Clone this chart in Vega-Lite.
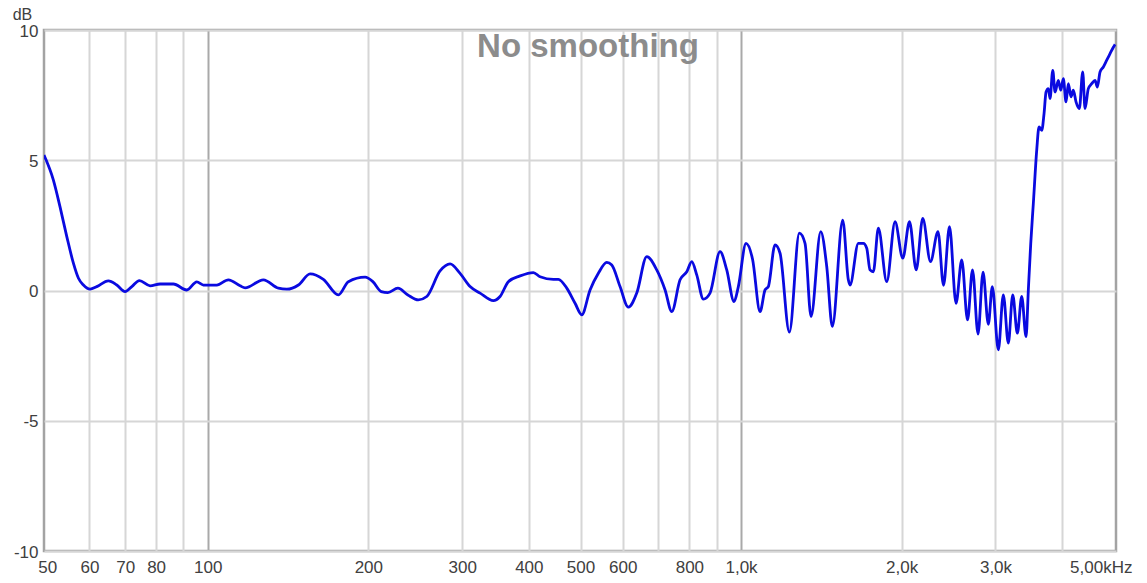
{
  "$schema": "https://vega.github.io/schema/vega-lite/v6.json",
  "width": 1072,
  "height": 521,
  "autosize": "none",
  "padding": {"left": 44, "top": 30, "right": 31, "bottom": 32},
  "background": "white",
  "config": {
    "view": {"stroke": "#a3a3a3", "strokeWidth": 2.5},
    "font": "Liberation Sans"
  },
  "title": {
    "text": "No smoothing",
    "anchor": "middle",
    "baseline": "top",
    "offset": -58,
    "dx": 8,
    "font": "Liberation Sans",
    "fontSize": 33,
    "fontWeight": "bold",
    "color": "#8c8c8c"
  },
  "data": {
    "values": [
      {"f": 49.3, "db": 5.2}, {"f": 51.34, "db": 4.24}, {"f": 52.85, "db": 3.2}, {"f": 54.4, "db": 2.07},
      {"f": 55.97, "db": 1.05}, {"f": 57.21, "db": 0.47}, {"f": 58.45, "db": 0.21}, {"f": 60.16, "db": 0.05},
      {"f": 61.92, "db": 0.15}, {"f": 65.1, "db": 0.37}, {"f": 67.51, "db": 0.21}, {"f": 69.97, "db": -0.04},
      {"f": 72.04, "db": 0.15}, {"f": 74.43, "db": 0.38}, {"f": 77.95, "db": 0.18}, {"f": 81.39, "db": 0.25},
      {"f": 86.2, "db": 0.25}, {"f": 91.33, "db": 0.02}, {"f": 95.36, "db": 0.33}, {"f": 98.12, "db": 0.21},
      {"f": 103.96, "db": 0.21}, {"f": 109.3, "db": 0.41}, {"f": 114.97, "db": 0.18}, {"f": 117.48, "db": 0.1},
      {"f": 127.13, "db": 0.41}, {"f": 135.63, "db": 0.09}, {"f": 140.63, "db": 0.05}, {"f": 147.89, "db": 0.21},
      {"f": 155.54, "db": 0.64}, {"f": 164.72, "db": 0.43}, {"f": 175.75, "db": -0.17}, {"f": 183.49, "db": 0.34},
      {"f": 197.22, "db": 0.51}, {"f": 203.94, "db": 0.34}, {"f": 211.46, "db": -0.04}, {"f": 217.59, "db": -0.08},
      {"f": 227.23, "db": 0.09}, {"f": 237.24, "db": -0.17}, {"f": 248.23, "db": -0.36}, {"f": 257.42, "db": -0.23},
      {"f": 272.62, "db": 0.75}, {"f": 284.68, "db": 1.02}, {"f": 297.21, "db": 0.66}, {"f": 310.34, "db": 0.15},
      {"f": 324.04, "db": -0.1}, {"f": 343.17, "db": -0.39}, {"f": 353.23, "db": -0.23}, {"f": 366.13, "db": 0.34},
      {"f": 385.1, "db": 0.56}, {"f": 407.9, "db": 0.69}, {"f": 419.85, "db": 0.53}, {"f": 444.65, "db": 0.43},
      {"f": 454.44, "db": 0.43}, {"f": 471.12, "db": 0.09}, {"f": 488.35, "db": -0.49}, {"f": 502.68, "db": -0.93},
      {"f": 520.99, "db": 0.02}, {"f": 540.03, "db": 0.66}, {"f": 559.93, "db": 1.08}, {"f": 572.26, "db": 0.98},
      {"f": 593.05, "db": 0.15}, {"f": 614.71, "db": -0.64}, {"f": 637.41, "db": -0.1}, {"f": 665.54, "db": 1.3},
      {"f": 694.88, "db": 0.79}, {"f": 720.37, "db": 0.02}, {"f": 741.44, "db": -0.81}, {"f": 768.45, "db": 0.41},
      {"f": 791.01, "db": 0.72}, {"f": 808.26, "db": 1.11}, {"f": 825.87, "db": 0.6}, {"f": 849.77, "db": -0.33},
      {"f": 874.64, "db": -0.1}, {"f": 913.31, "db": 1.49}, {"f": 940.09, "db": 0.79}, {"f": 970.22, "db": -0.43},
      {"f": 988.4, "db": 0.15}, {"f": 1021.8, "db": 1.81}, {"f": 1050.9, "db": 1.2}, {"f": 1085.5, "db": -0.81},
      {"f": 1109.2, "db": 0.02}, {"f": 1125.0, "db": 0.15}, {"f": 1158.0, "db": 1.75}, {"f": 1183.4, "db": 1.43},
      {"f": 1231.9, "db": -1.6}, {"f": 1286.2, "db": 2.2}, {"f": 1318.2, "db": 1.81}, {"f": 1352.8, "db": -1.0},
      {"f": 1410.6, "db": 2.26}, {"f": 1447.7, "db": 0.92}, {"f": 1483.2, "db": -1.38}, {"f": 1551.2, "db": 2.7},
      {"f": 1589.2, "db": 0.41}, {"f": 1601.0, "db": 0.21}, {"f": 1659.4, "db": 1.81}, {"f": 1695.7, "db": 1.81},
      {"f": 1720.6, "db": 1.62}, {"f": 1745.1, "db": 0.79}, {"f": 1770.3, "db": 0.72}, {"f": 1809.2, "db": 2.39},
      {"f": 1875.9, "db": 0.34}, {"f": 1944.4, "db": 2.64}, {"f": 2010.5, "db": 1.24}, {"f": 2069.5, "db": 2.64},
      {"f": 2130.4, "db": 0.79}, {"f": 2191.5, "db": 2.77}, {"f": 2265.9, "db": 1.11}, {"f": 2340.7, "db": 2.26},
      {"f": 2397.0, "db": 0.2}, {"f": 2459.6, "db": 2.45}, {"f": 2530.1, "db": -0.49}, {"f": 2593.3, "db": 1.17},
      {"f": 2659.1, "db": -1.13}, {"f": 2716.9, "db": 0.79}, {"f": 2782.2, "db": -1.67}, {"f": 2842.9, "db": 0.7},
      {"f": 2908.5, "db": -1.3}, {"f": 2959.2, "db": 0.15}, {"f": 3036.9, "db": -2.28}, {"f": 3103.2, "db": -0.17},
      {"f": 3171.1, "db": -2.02}, {"f": 3231.9, "db": -0.17}, {"f": 3297.1, "db": -1.64}, {"f": 3359.9, "db": -0.23},
      {"f": 3423.2, "db": -1.77}, {"f": 3457.3, "db": 0.02}, {"f": 3493.4, "db": 1.81}, {"f": 3532.6, "db": 3.34},
      {"f": 3584.8, "db": 5.39}, {"f": 3620.8, "db": 6.28}, {"f": 3663.2, "db": 6.15}, {"f": 3699.9, "db": 6.79},
      {"f": 3732.1, "db": 7.62}, {"f": 3769.2, "db": 7.75}, {"f": 3797.0, "db": 7.37}, {"f": 3841.6, "db": 8.45},
      {"f": 3880.1, "db": 7.62}, {"f": 3935.2, "db": 8.07}, {"f": 3976.3, "db": 7.69}, {"f": 4021.3, "db": 8.13},
      {"f": 4068.4, "db": 7.24}, {"f": 4108.9, "db": 7.94}, {"f": 4157.1, "db": 7.43}, {"f": 4198.5, "db": 7.69},
      {"f": 4247.8, "db": 7.24}, {"f": 4309.1, "db": 6.98}, {"f": 4372.1, "db": 8.39}, {"f": 4416.2, "db": 6.98},
      {"f": 4479.5, "db": 7.75}, {"f": 4546.0, "db": 7.94}, {"f": 4611.3, "db": 8.07}, {"f": 4657.1, "db": 7.81},
      {"f": 4712.0, "db": 8.39}, {"f": 4779.7, "db": 8.58}, {"f": 4850.2, "db": 8.84}, {"f": 4919.8, "db": 9.09},
      {"f": 4990.4, "db": 9.34}, {"f": 5027.1, "db": 9.45}
    ]
  },
  "mark": {"type": "line", "color": "#0a0ae0", "strokeWidth": 2.8, "interpolate": "monotone", "clip": true},
  "encoding": {
    "x": {
      "field": "f",
      "type": "quantitative",
      "scale": {"type": "log", "domain": [49.3, 5048], "nice": false},
      "axis": {
        "title": null,
        "values": [50, 60, 70, 80, 90, 100, 200, 300, 400, 500, 600, 700, 800, 900, 1000, 2000, 3000, 4000, 5000],
        "labelExpr": "datum.value == 1000 ? '1,0k' : datum.value == 2000 ? '2,0k' : datum.value == 3000 ? '3,0k' : datum.value == 5000 ? '5,00kHz' : (datum.value == 90 || datum.value == 700 || datum.value == 900 || datum.value == 4000) ? '' : '' + datum.value",
        "labelOffset": {"condition": {"test": "datum.value == 5000", "value": -13}, "value": 0},
        "labelFont": "Liberation Sans",
        "labelFontSize": 17,
        "labelColor": "#404040",
        "labelPadding": 8,
        "labelBaseline": "top",
        "labelOverlap": false,
        "ticks": false,
        "domain": false,
        "grid": true,
        "gridColor": {"condition": {"test": "datum.value == 100 || datum.value == 1000", "value": "#a9a9a9"}, "value": "#d6d6d6"},
        "gridOpacity": {"condition": {"test": "datum.value == 50 || datum.value == 5000", "value": 0}, "value": 1},
        "gridWidth": 2
      }
    },
    "y": {
      "field": "db",
      "type": "quantitative",
      "scale": {"domain": [-10, 10], "nice": false},
      "axis": {
        "title": "dB",
        "titleAngle": 0,
        "titleAlign": "center",
        "titleBaseline": "middle",
        "titleX": -22,
        "titleY": -16,
        "titleFont": "Liberation Sans",
        "titleFontSize": 16,
        "titleFontWeight": "normal",
        "titleColor": "#404040",
        "values": [-10, -5, 0, 5, 10],
        "labelExpr": "'' + datum.value",
        "labelFont": "Liberation Sans",
        "labelFontSize": 17,
        "labelColor": "#404040",
        "labelPadding": 6,
        "labelBaseline": "middle",
        "labelOffset": 1,
        "ticks": false,
        "domain": false,
        "grid": true,
        "gridColor": "#d6d6d6",
        "gridWidth": 2
      }
    }
  }
}
